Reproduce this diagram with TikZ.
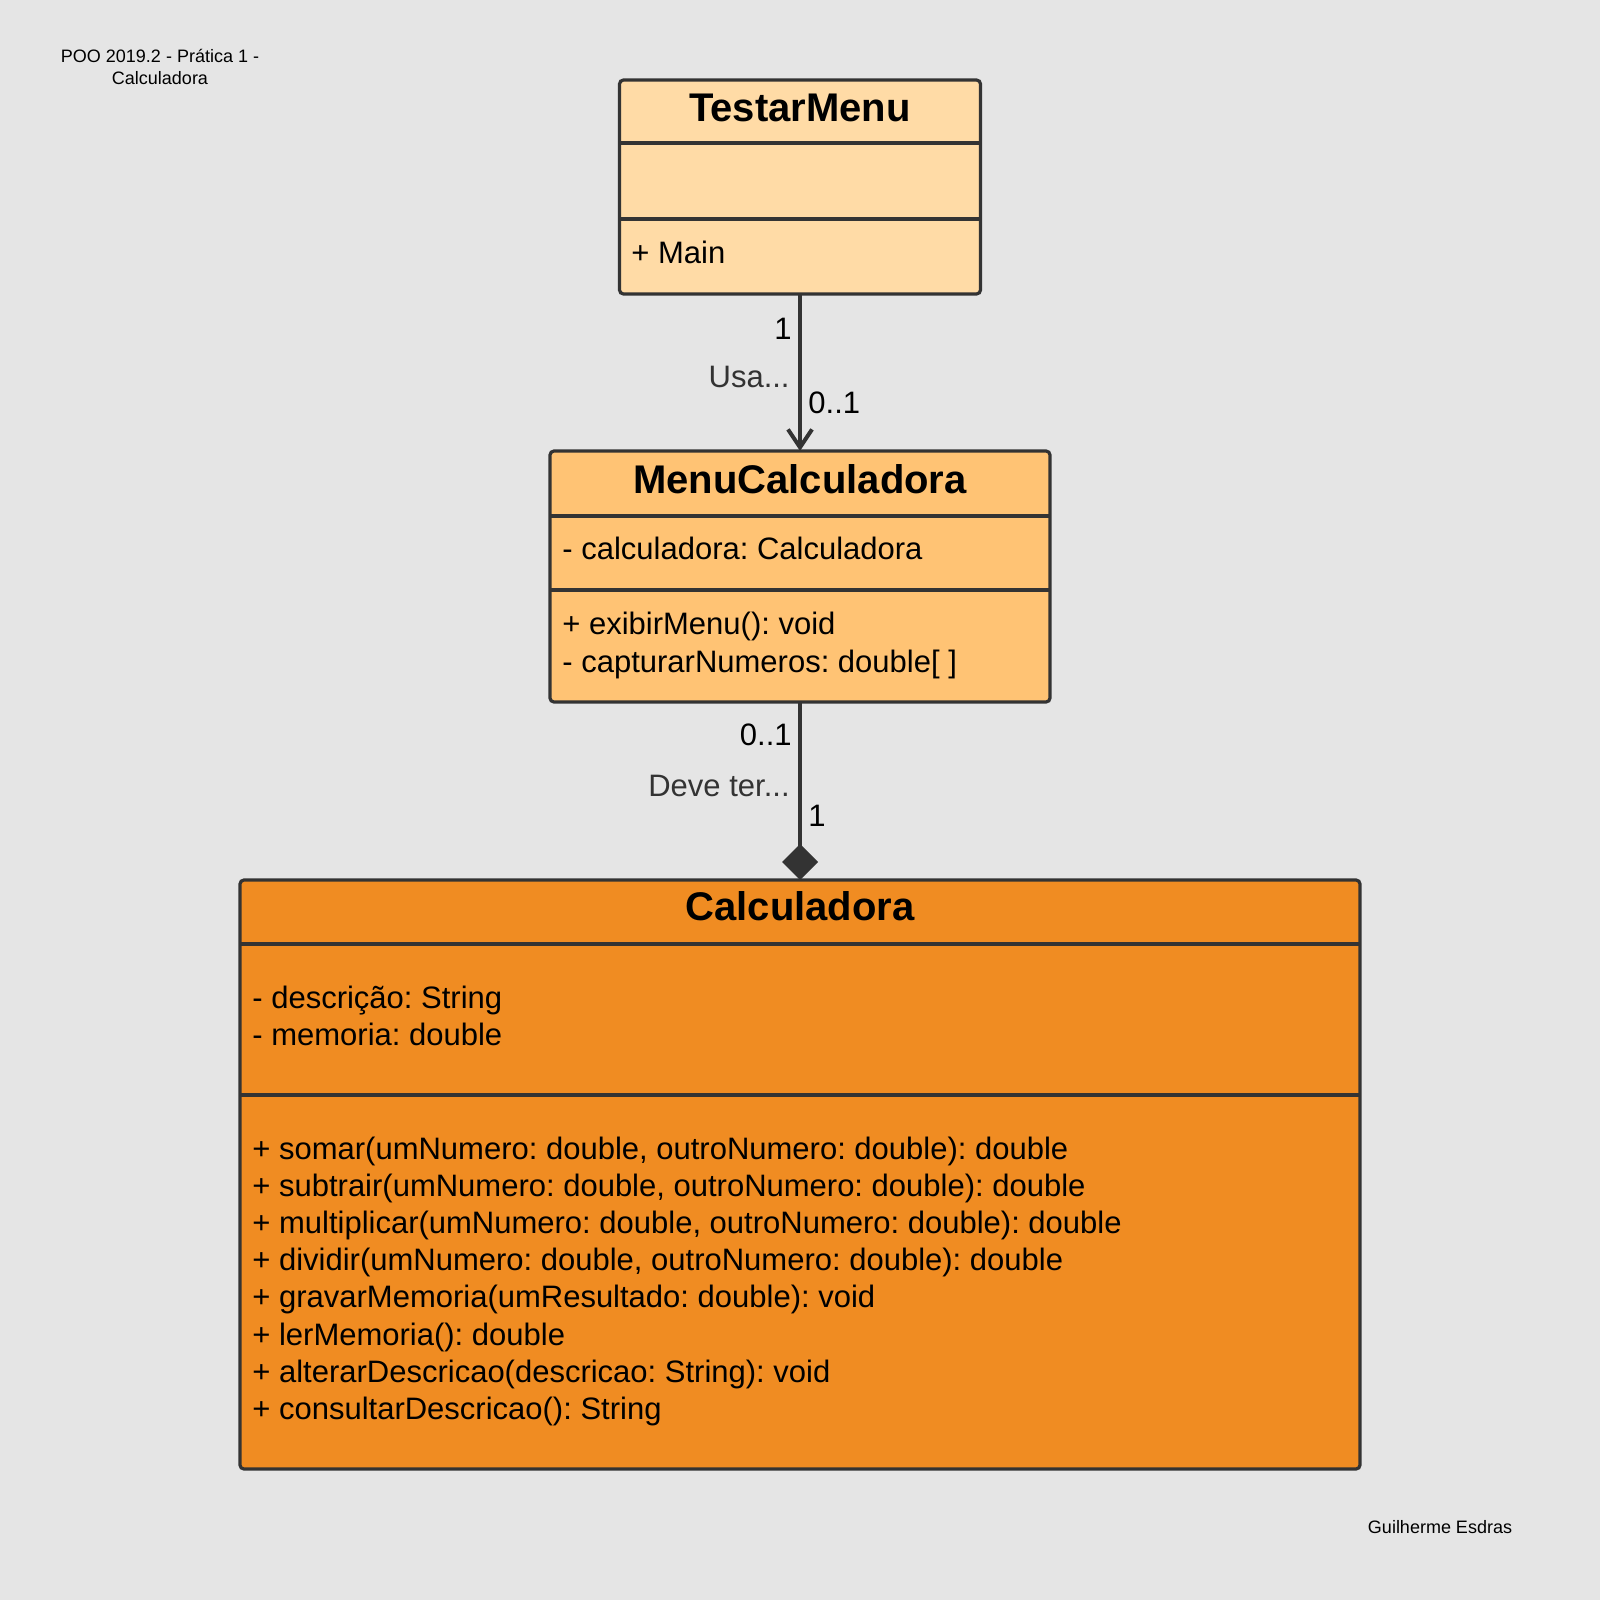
\documentclass[tikz,border=0pt]{standalone}
\usepackage{fontspec}
\setmainfont{Liberation Sans}
\usetikzlibrary{arrows.meta}
\frenchspacing

\definecolor{bgcol}{HTML}{E5E5E5}
\definecolor{linecol}{HTML}{333333}
\definecolor{lightorange}{HTML}{FFDBA6}
\definecolor{midorange}{HTML}{FFC374}
\definecolor{darkorange}{HTML}{F08C22}

\tikzset{
  classbox/.style={draw=linecol,line width=1.6pt,rounded corners=2pt,inner sep=0pt,outer sep=0pt,anchor=north west},
  divider/.style={draw=linecol,line width=1.6pt},
  conn/.style={draw=linecol,line width=2pt},
  classtitle/.style={anchor=base,inner sep=0pt,font=\fontsize{20pt}{24pt}\selectfont\bfseries},
  member/.style={anchor=base west,inner sep=0pt,font=\fontsize{15.5pt}{18.6pt}\selectfont},
  mult/.style={inner sep=0pt,font=\fontsize{15.5pt}{18.6pt}\selectfont},
  rolename/.style={mult,text=linecol},
  note/.style={inner sep=0pt,align=center,font=\fontsize{9pt}{11pt}\selectfont},
}

\begin{document}
\begin{tikzpicture}[x=0.5pt,y=-0.5pt]
  \fill[bgcol] (0,0) rectangle (1600,1600);
  \useasboundingbox (0,0) rectangle (1600,1600);

  \node[note] (course) at (160,67) {POO 2019.2 - Prática 1 -\\Calculadora};
  \node[note] (author) at (1440,1527) {Guilherme Esdras};

  % TestarMenu
  \node[classbox,fill=lightorange,minimum width=180.5pt,minimum height=107pt] (testar) at (619.5,80) {};
  \draw[divider] (testar.west |- 0,143) -- (testar.east |- 0,143);
  \draw[divider] (testar.west |- 0,219) -- (testar.east |- 0,219);
  \node[classtitle] (testartitle) at (800,121) {TestarMenu};
  \node[member] (testarop) at (631,263) {+ Main};

  % MenuCalculadora
  \node[classbox,fill=midorange,minimum width=250pt,minimum height=125.5pt] (menu) at (550,451) {};
  \draw[divider] (menu.west |- 0,516) -- (menu.east |- 0,516);
  \draw[divider] (menu.west |- 0,590) -- (menu.east |- 0,590);
  \node[classtitle] (menutitle) at (800,493) {MenuCalculadora};
  \node[member] (menuattr) at (562,559) {- calculadora: Calculadora};
  \node[member] (menuop1) at (562,634) {+ exibirMenu(): void};
  \node[member] (menuop2) at (562,672) {- capturarNumeros: double[ ]};

  % Calculadora
  \node[classbox,fill=darkorange,minimum width=560pt,minimum height=294.5pt] (calc) at (240,880) {};
  \draw[divider] (calc.west |- 0,944) -- (calc.east |- 0,944);
  \draw[divider] (calc.west |- 0,1095) -- (calc.east |- 0,1095);
  \node[classtitle] (calctitle) at (800,920) {Calculadora};
  \node[member] (calcattr1) at (252,1008) {- descrição: String};
  \node[member] (calcattr2) at (252,1045) {- memoria: double};
  \foreach \txt [count=\i] in {
      {+ somar(umNumero: double, outroNumero: double): double},
      {+ subtrair(umNumero: double, outroNumero: double): double},
      {+ multiplicar(umNumero: double, outroNumero: double): double},
      {+ dividir(umNumero: double, outroNumero: double): double},
      {+ gravarMemoria(umResultado: double): void},
      {+ lerMemoria(): double},
      {+ alterarDescricao(descricao: String): void},
      {+ consultarDescricao(): String}}
    \node[member] (calcop\i) at (252,{1159+37.2*(\i-1)}) {\txt};

  % associations
  \draw[conn,-{Straight Barb[length=9pt,width=12pt]}] (testar.south) -- (menu.north);
  \node[mult,anchor=east] (usasrc) at (792,329) {1};
  \node[rolename,anchor=east] (usa) at (790,377) {Usa...};
  \node[mult,anchor=west] (usadst) at (808,403) {0..1};

  \draw[conn,-{Diamond[length=18pt,width=18pt]}] (menu.south) -- (calc.north);
  \node[mult,anchor=east] (devesrc) at (792,735) {0..1};
  \node[rolename,anchor=east] (deve) at (790,786) {Deve ter...};
  \node[mult,anchor=west] (devedst) at (808,816) {1};
\end{tikzpicture}
\end{document}
